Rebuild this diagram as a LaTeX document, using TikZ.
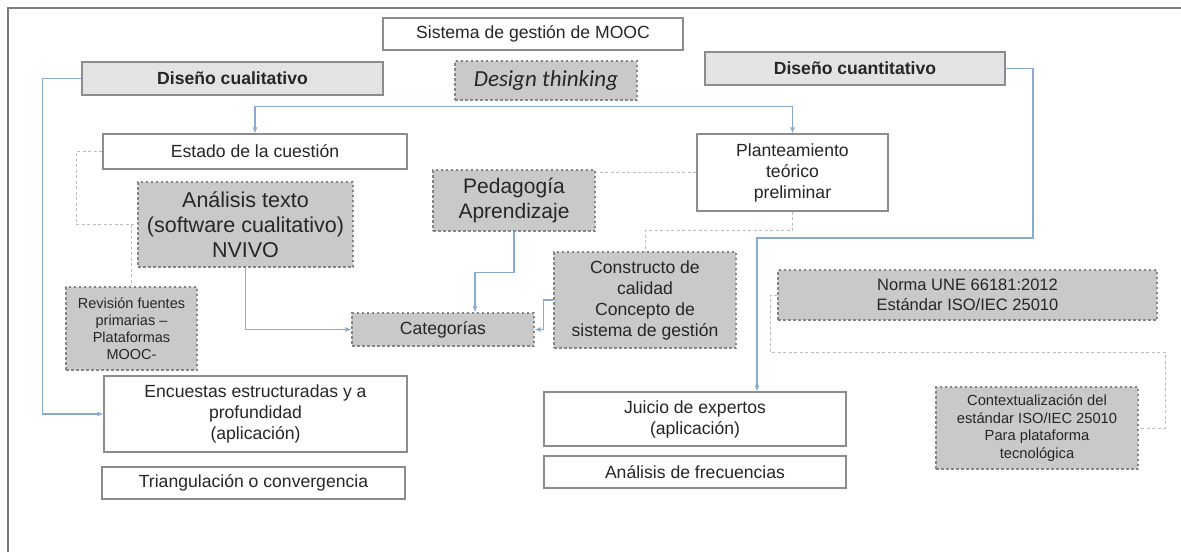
\documentclass[tikz,border=0pt]{standalone}
\usepackage{fontspec}
\setmainfont{Liberation Sans}
\newfontfamily\dtfont{Carlito}
\usetikzlibrary{arrows.meta}
\definecolor{txt}{HTML}{262626}
\definecolor{framecol}{HTML}{7A7A7A}
\definecolor{boxline}{HTML}{8C8C8C}
\definecolor{lightfill}{HTML}{E3E3E3}
\definecolor{dashfill}{HTML}{C9C9C9}
\definecolor{dashline}{HTML}{858585}
\definecolor{bluel}{HTML}{8AAAD2}
\definecolor{gdash}{HTML}{BDBDBD}
\begin{document}
\begin{tikzpicture}[x=1pt,y=-1pt,
  base/.style={draw=boxline, line width=1.1pt, inner sep=0pt, align=center, text=txt,
    font=\fontsize{17.6}{21}\selectfont},
  whitebox/.style={base, fill=white},
  lightbox/.style={base, fill=lightfill, font=\fontsize{17.6}{21}\selectfont\bfseries},
  dashbox/.style={base, fill=dashfill, draw=dashline, dash pattern=on 2.5pt off 2.5pt},
  bl/.style={draw=bluel, line width=1.3pt},
  blarrow/.style={bl, -{Latex[length=6pt,width=5pt]}},
  gd/.style={draw=gdash, line width=1pt, dash pattern=on 3pt off 2.5pt}]
\useasboundingbox (0,0) rectangle (1181,552);
\fill[white] (0,0) rectangle (1181,552);
\draw[framecol, line width=1.2pt] (8,552) -- (8,8) -- (1181,8);

% nodes
\node[whitebox, minimum width=300pt, minimum height=32pt] (sis) at (533,34) {Sistema de gestión de MOOC};
\node[lightbox, minimum width=301pt, minimum height=33pt] (dcual) at (232.5,78.5) {Diseño cualitativo};
\node[dashbox, minimum width=182pt, minimum height=39pt, font=\dtfont\itshape\fontsize{23}{26}\selectfont] (dt) at (546,80.5) {Design thinking};
\node[lightbox, minimum width=300pt, minimum height=33pt] (dcuan) at (855,68.5) {Diseño cuantitativo};
\node[whitebox, minimum width=304pt, minimum height=35pt] (est) at (255,151.5) {Estado de la cuestión};
\node[whitebox, minimum width=191pt, minimum height=77pt] (plan) at (792.5,172.5) {Planteamiento\\teórico\\preliminar};
\node[dashbox, minimum width=215pt, minimum height=85pt, font=\fontsize{21.5}{25}\selectfont] (ana) at (245.5,224.5) {Análisis texto\\(software cualitativo)\\NVIVO};
\node[dashbox, minimum width=162pt, minimum height=61pt, font=\fontsize{21}{25}\selectfont] (ped) at (514,200.5) {Pedagogía\\Aprendizaje};
\node[dashbox, minimum width=182pt, minimum height=96pt] (cons) at (645,300) {Constructo de\\calidad\\Concepto de\\sistema de gestión};
\node[dashbox, minimum width=182pt, minimum height=33pt] (cat) at (443,329.5) {Categorías};
\node[dashbox, minimum width=131pt, minimum height=83pt, font=\fontsize{14.5}{17}\selectfont] (rev) at (131.5,328.5) {Revisión fuentes\\primarias –\\Plataformas\\MOOC-};
\node[dashbox, minimum width=379pt, minimum height=50pt, font=\fontsize{16.5}{20}\selectfont] (norma) at (967.5,295) {Norma UNE 66181:2012\\Estándar ISO/IEC 25010};
\node[dashbox, minimum width=202pt, minimum height=82pt, font=\fontsize{14.7}{17.5}\selectfont] (ctx) at (1037,428) {Contextualización del\\estándar ISO/IEC 25010\\Para plataforma\\tecnológica};
\node[whitebox, minimum width=303pt, minimum height=76pt] (enc) at (255.5,414) {Encuestas estructuradas y a\\profundidad\\(aplicación)};
\node[whitebox, minimum width=303pt, minimum height=32pt] (tri) at (253.5,483) {Triangulación o convergencia};
\node[whitebox, minimum width=302pt, minimum height=54pt] (jui) at (695,419) {Juicio de expertos\\(aplicación)};
\node[whitebox, minimum width=302pt, minimum height=32pt] (frec) at (695,472) {Análisis de frecuencias};

% blue connectors
\draw[bl, {Latex[length=6pt,width=5pt]}-{Latex[length=6pt,width=5pt]}] (est.north) -- ++(0,-27) -| (plan.north);
\draw[blarrow] (dcual.west) -- ++(-39,0) |- (enc.west);
\draw[blarrow] (dcuan.east) -| (1033,238) -| ([xshift=62pt]jui.north);
\draw[blarrow] (ana.south) |- (cat.west);
\draw[blarrow] (ped.south) -- ++(0,41) -| ([xshift=32pt]cat.north);
\draw[blarrow] (cons.west) -- ++(-10,0) |- (cat.east);

% grey dashed connectors
\draw[gd] (est.west) -- ++(-26,0) |- (ana.west);
\coordinate (br) at (131.5,224.5);
\draw[gd] (br) -- (rev.north);
\draw[gd] (plan.west) -- (plan.west -| ped.east);
\draw[gd] (plan.south) -- ++(0,19) -| (cons.north);
\draw[gd] (norma.west) -- ++(-7,0) |- (1165,352) |- (ctx.east);
\end{tikzpicture}
\end{document}
